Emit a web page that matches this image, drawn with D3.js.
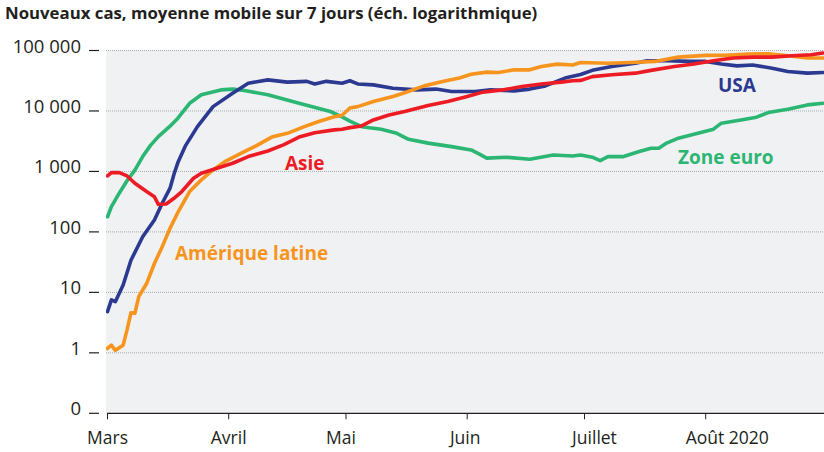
<!DOCTYPE html>
<html><head><meta charset="utf-8">
<script src="https://cdn.jsdelivr.net/npm/d3@7"></script>
<style>
html,body{margin:0;padding:0;background:#fff;}
svg{display:block;font-family:"Open Sans",sans-serif;}
</style></head>
<body><svg id="chart" width="824" height="452"></svg>
<script>
const title = "Nouveaux cas, moyenne mobile sur 7 jours (éch. logarithmique)";
const monthTicks = ["2020-03-01","2020-04-01","2020-05-01","2020-06-01","2020-07-01","2020-08-01"];
const monthLabels = ["Mars","Avril","Mai","Juin","Juillet","Août 2020"];
const yTickValues = [0.1, 1, 10, 100, 1000, 10000, 100000];
const yTickLabels = ["0","1","10","100","1 000","10 000","100 000"];

// [day offset from 1 March 2020, new cases (7-day average)]
const zoneEuro = [[0,178],[1,262],[3,437],[5,700],[7,1050],[9,1760],[11,2700],[13,3770],[16,5600],[18,7600],[21,13400],[24,18500],[29,22300],[32,23000],[35,21800],[41,18500],[49,13400],[57,9800],[60,8000],[62,6800],[65,5500],[70,5000],[74,4270],[77,3400],[82,2940],[88,2570],[93,2270],[95,1950],[97,1660],[102,1720],[108,1590],[114,1870],[119,1800],[121,1870],[124,1720],[126,1510],[128,1760],[132,1760],[136,2130],[139,2420],[141,2420],[143,2940],[146,3550],[151,4270],[155,5000],[157,6280],[162,7100],[166,7900],[169,9400],[174,10700],[179,12600],[183,13400]];
const usa = [[0,4.8],[1,7.5],[2,7],[4,13.2],[6,34],[9,83],[12,157],[14,298],[16,528],[17,900],[18,1400],[20,2700],[23,5500],[27,11800],[32,19600],[36,28800],[41,32700],[46,30000],[51,30900],[53,28000],[56,30900],[60,28800],[62,31600],[64,28000],[68,27000],[73,23800],[79,22300],[84,23000],[88,21000],[94,21000],[98,22300],[104,21500],[108,23000],[112,26000],[117,35000],[121,40000],[124,47000],[129,54300],[135,61600],[138,67500],[143,67500],[149,66000],[153,66000],[157,60000],[161,55700],[165,57600],[170,51000],[174,45000],[179,42200],[183,43300]];
const asie = [[0,842],[1,955],[3,955],[5,842],[7,638],[10,465],[12,382],[13,286],[15,290],[17,360],[19,465],[22,770],[24,935],[28,1130],[32,1365],[36,1760],[41,2180],[45,2750],[49,3700],[53,4370],[58,4870],[60,5000],[62,5300],[65,5650],[68,7100],[72,8600],[76,9800],[82,12300],[87,14300],[92,17400],[96,20500],[101,22300],[106,25300],[111,28000],[116,30000],[119,31600],[121,32000],[124,37000],[129,39600],[135,42200],[139,46900],[145,54300],[150,60000],[155,67500],[160,75000],[165,77700],[170,77700],[175,81800],[180,85000],[183,90800]];
const ameriqueLatine = [[0,1.18],[1,1.34],[2,1.1],[4,1.34],[5,2.4],[6,4.6],[7,4.5],[8,8.5],[10,14],[12,30],[14,57],[16,115],[18,210],[21,465],[24,725],[27,1060],[30,1450],[35,2130],[38,2650],[42,3700],[46,4270],[50,5400],[54,6680],[58,8000],[60,8500],[62,11200],[64,11800],[68,14300],[73,17400],[76,20000],[81,26000],[86,30900],[90,35000],[93,40500],[97,43900],[100,43300],[104,47900],[108,47900],[111,54300],[115,59500],[119,57600],[121,63400],[128,61600],[134,63400],[140,66000],[146,77700],[153,83000],[158,83000],[164,87500],[169,88000],[174,81800],[179,75000],[183,75000]];

const seriesNames = ["Zone euro","USA","Asie","Amérique latine"];
const seriesData = [zoneEuro, usa, asie, ameriqueLatine];
const seriesColors = ["#2bb673","#2b3990","#ed1c24","#f7941d"];

const svg = d3.select("#chart");
const parse = d3.timeParse("%Y-%m-%d");
const start = parse("2020-03-01");
const x = d3.scaleTime().domain([start, parse("2020-09-01")]).range([107.5, 826.9]);
const y = d3.scaleLog().domain([0.1, 100000]).range([413.3, 50.5]);
const plotL = 106, plotR = 824;

svg.append("text").attr("x", 5).attr("y", 19)
  .attr("font-size", 16.8).attr("font-weight", "bold").attr("fill", "#231f20")
  .text(title);

svg.append("rect").attr("x", plotL).attr("y", y(100000)).attr("width", plotR - plotL)
  .attr("height", y(0.1) - y(100000)).attr("fill", "#f0f1f3");

// grid
svg.append("g").selectAll("line").data(yTickValues.slice(1)).join("line")
  .attr("x1", plotL).attr("x2", plotR).attr("y1", d => y(d)).attr("y2", d => y(d))
  .attr("stroke", "#a7a9ac").attr("stroke-width", 1).attr("stroke-dasharray", "1,1");

// y axis ticks & labels
const yg = svg.append("g");
yg.selectAll("line").data(yTickValues).join("line")
  .attr("x1", 89).attr("x2", 99).attr("y1", d => y(d)).attr("y2", d => y(d))
  .attr("stroke", "#231f20").attr("stroke-width", 1.2);
yg.selectAll("text").data(yTickValues).join("text")
  .attr("x", 81).attr("y", d => y(d) + 2).attr("text-anchor", "end")
  .attr("font-size", 18.5).attr("fill", "#231f20")
  .text((d, i) => yTickLabels[i]);

// x axis
const xg = svg.append("g");
xg.append("line").attr("x1", 107).attr("x2", plotR).attr("y1", y(0.1)).attr("y2", y(0.1))
  .attr("stroke", "#231f20").attr("stroke-width", 1.2);
const ticks = monthTicks.map(parse);
xg.selectAll("line.t").data(ticks).join("line").attr("class", "t")
  .attr("x1", d => x(d)).attr("x2", d => x(d)).attr("y1", y(0.1)).attr("y2", y(0.1) + 6)
  .attr("stroke", "#231f20").attr("stroke-width", 1);
const labelShift = [0, 0, -5, -2, 10, 0];
xg.selectAll("text").data(ticks).join("text")
  .attr("x", (d, i) => x(d) + labelShift[i] - (i === 5 ? 20 : 0))
  .attr("y", 444)
  .attr("text-anchor", (d, i) => i === 5 ? "start" : "middle")
  .attr("font-size", 17.5).attr("fill", "#231f20")
  .text((d, i) => monthLabels[i]);

// lines
const line = d3.line()
  .x(d => x(d3.timeDay.offset(start, d[0])))
  .y(d => y(d[1]));
svg.append("defs").append("clipPath").attr("id", "clip")
  .append("rect").attr("x", plotL).attr("y", 40).attr("width", plotR - plotL).attr("height", 380);
const lg = svg.append("g").attr("clip-path", "url(#clip)");
[0, 1, 3, 2].forEach(i => {
  lg.append("path").datum(seriesData[i]).attr("d", line)
    .attr("fill", "none").attr("stroke", seriesColors[i]).attr("stroke-width", 3.6)
    .attr("stroke-linejoin", "round").attr("stroke-linecap", "round");
});

// series labels
const seriesLabelPos = [[678, 164], [718, 92], [285, 170], [175, 260]];
svg.append("g").selectAll("text").data(seriesNames).join("text")
  .attr("x", (d, i) => seriesLabelPos[i][0]).attr("y", (d, i) => seriesLabelPos[i][1])
  .attr("font-size", 19).attr("font-weight", "bold")
  .attr("fill", (d, i) => seriesColors[i])
  .text(d => d);
</script></body></html>
